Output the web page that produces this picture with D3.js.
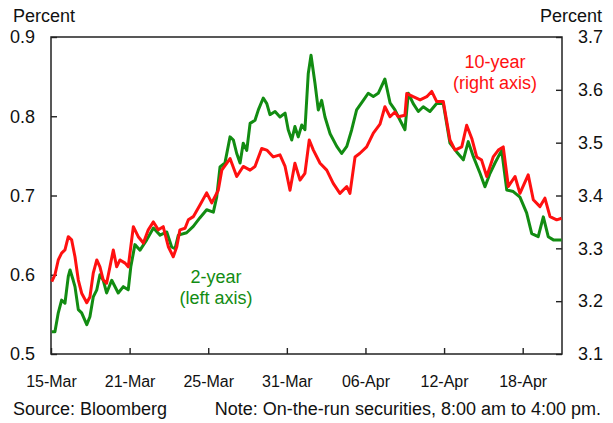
<!DOCTYPE html>
<html>
<head>
<meta charset="utf-8">
<script src="https://cdn.jsdelivr.net/npm/d3@7"></script>
<style>
  html, body { margin: 0; padding: 0; background: #ffffff; }
  svg { display: block; font-family: "Liberation Sans", Arial, sans-serif; }
</style>
</head>
<body>
<svg id="chart" width="613" height="423"></svg>
<script>
// ---- Data (trading-day index from 15-Mar, yields in percent) ----
const tickLabels = ["15-Mar", "21-Mar", "25-Mar", "31-Mar", "06-Apr", "12-Apr", "18-Apr"];
const tickDays = [0, 4, 8, 12, 16, 20, 24];
const leftTicks = [0.5, 0.6, 0.7, 0.8, 0.9];
const rightTicks = [3.1, 3.2, 3.3, 3.4, 3.5, 3.6, 3.7];

const twoYearDay = [0.04,0.20,0.37,0.54,0.71,0.88,0.97,1.13,1.22,1.39,1.56,1.82,1.98,2.15,2.33,2.49,2.66,2.83,3.09,3.42,3.68,3.93,4.06,4.27,4.53,4.87,5.21,5.55,5.89,6.14,6.31,6.48,6.90,7.24,7.58,7.92,8.26,8.43,8.60,8.85,9.11,9.28,9.45,9.62,9.78,9.96,10.13,10.38,10.55,10.80,10.98,11.14,11.40,11.65,11.91,12.07,12.25,12.41,12.58,12.76,12.92,13.09,13.23,13.43,13.60,13.77,13.94,14.20,14.54,14.79,15.05,15.30,15.55,15.89,16.14,16.40,16.65,16.99,17.25,17.50,17.76,18.01,18.18,18.43,18.69,18.94,19.28,19.62,19.96,20.30,20.64,20.98,21.23,21.49,21.83,22.08,22.34,22.59,22.93,23.19,23.52,23.86,24.20,24.46,24.79,25.05,25.30,25.56,25.98];
const twoYearVal = [0.528,0.528,0.552,0.568,0.564,0.598,0.606,0.593,0.585,0.556,0.552,0.537,0.547,0.572,0.581,0.600,0.593,0.577,0.593,0.577,0.585,0.581,0.610,0.638,0.631,0.644,0.659,0.650,0.654,0.635,0.633,0.650,0.653,0.661,0.672,0.682,0.679,0.698,0.736,0.741,0.774,0.770,0.753,0.741,0.766,0.757,0.791,0.795,0.808,0.823,0.816,0.802,0.806,0.799,0.804,0.783,0.770,0.787,0.774,0.789,0.783,0.854,0.877,0.842,0.808,0.820,0.799,0.778,0.762,0.753,0.762,0.783,0.808,0.820,0.829,0.825,0.829,0.847,0.817,0.808,0.795,0.783,0.829,0.816,0.806,0.812,0.806,0.816,0.816,0.766,0.755,0.745,0.768,0.749,0.728,0.711,0.728,0.741,0.757,0.707,0.705,0.698,0.678,0.652,0.648,0.673,0.648,0.644,0.644];

const tenYearDay = [0.04,0.20,0.37,0.54,0.71,0.88,1.05,1.22,1.39,1.56,1.82,1.98,2.15,2.33,2.49,2.66,2.83,3.00,3.17,3.34,3.51,3.77,3.93,4.19,4.44,4.70,4.95,5.21,5.46,5.71,5.97,6.22,6.40,6.56,6.82,6.99,7.24,7.58,7.92,8.18,8.51,8.69,9.11,9.45,9.78,10.13,10.38,10.72,10.98,11.31,11.65,11.91,12.16,12.41,12.67,12.92,13.14,13.35,13.69,14.03,14.36,14.70,15.05,15.21,15.47,15.72,16.06,16.40,16.74,16.99,17.25,17.50,17.67,18.01,18.10,18.43,18.78,19.12,19.37,19.62,19.96,20.30,20.56,20.90,21.15,21.41,21.66,21.91,22.17,22.50,22.76,23.01,23.27,23.61,23.86,24.28,24.54,24.88,25.13,25.39,25.73,25.98];
const tenYearVal = [3.237,3.250,3.278,3.291,3.297,3.322,3.316,3.284,3.240,3.215,3.197,3.208,3.253,3.278,3.265,3.240,3.234,3.265,3.297,3.265,3.278,3.272,3.265,3.341,3.322,3.310,3.335,3.350,3.335,3.341,3.303,3.284,3.303,3.335,3.338,3.354,3.360,3.382,3.405,3.386,3.410,3.448,3.470,3.436,3.455,3.448,3.455,3.489,3.486,3.473,3.477,3.455,3.410,3.461,3.429,3.442,3.505,3.486,3.461,3.448,3.423,3.404,3.417,3.404,3.473,3.480,3.492,3.518,3.535,3.568,3.549,3.558,3.549,3.552,3.593,3.587,3.581,3.587,3.597,3.578,3.578,3.505,3.486,3.492,3.533,3.508,3.473,3.467,3.436,3.473,3.486,3.492,3.417,3.436,3.404,3.439,3.392,3.379,3.395,3.360,3.354,3.357];

// ---- Layout ----
const svg = d3.select("#chart");
const L = 51, R = 562, T = 37, B = 354;
const GREEN = "#128c12", RED = "#ff1010";

const x = d3.scaleLinear().domain([0, 26]).range([L, R]);
const yL = d3.scaleLinear().domain([0.5, 0.9]).range([B, T]);
const yR = d3.scaleLinear().domain([3.1, 3.7]).range([B, T]);

// axes
const fmt = d3.format(".1f");
const axL = svg.append("g").attr("transform", `translate(${L},0)`)
  .call(d3.axisLeft(yL).tickValues(leftTicks).tickFormat(fmt).tickSize(-6).tickPadding(16));
const axR = svg.append("g").attr("transform", `translate(${R},0)`)
  .call(d3.axisRight(yR).tickValues(rightTicks).tickFormat(fmt).tickSize(-6).tickPadding(16));
const axB = svg.append("g").attr("transform", `translate(0,${B})`)
  .call(d3.axisBottom(x).tickValues(tickDays).tickFormat((d, i) => tickLabels[i]).tickSize(-6).tickPadding(22));

[axL, axR].forEach(g => {
  g.select(".domain").remove();
  g.selectAll("text").attr("font-size", 18).attr("fill", "#111").attr("font-family", "Liberation Sans, Arial, sans-serif");
  g.selectAll("line").attr("stroke", "#222").attr("stroke-width", 1.4);
});
axB.select(".domain").remove();
axB.selectAll("text").attr("font-size", 16).attr("fill", "#111").attr("font-family", "Liberation Sans, Arial, sans-serif");
axB.selectAll("line").attr("stroke", "#222").attr("stroke-width", 1.4);

// frame
svg.append("rect").attr("x", L).attr("y", T).attr("width", R - L).attr("height", B - T)
  .attr("fill", "none").attr("stroke", "#222").attr("stroke-width", 1.5);

// lines
const g2 = twoYearDay.map((d, i) => [d, twoYearVal[i]]);
const g10 = tenYearDay.map((d, i) => [d, tenYearVal[i]]);
svg.append("path").datum(g2)
  .attr("d", d3.line().x(d => x(d[0])).y(d => yL(d[1])))
  .attr("fill", "none").attr("stroke", GREEN).attr("stroke-width", 3).attr("stroke-linejoin", "round");
svg.append("path").datum(g10)
  .attr("d", d3.line().x(d => x(d[0])).y(d => yR(d[1])))
  .attr("fill", "none").attr("stroke", RED).attr("stroke-width", 3).attr("stroke-linejoin", "round");

// axis titles
svg.append("text").attr("x", 13).attr("y", 22).attr("font-size", 18).attr("fill", "#111").text("Percent");
svg.append("text").attr("x", 602).attr("y", 22).attr("font-size", 18).attr("fill", "#111").attr("text-anchor", "end").text("Percent");

// series labels
const lab2 = svg.append("text").attr("font-size", 18).attr("fill", GREEN).attr("text-anchor", "middle");
lab2.append("tspan").attr("x", 216).attr("y", 283).text("2-year");
lab2.append("tspan").attr("x", 216).attr("y", 304).text("(left axis)");
const lab10 = svg.append("text").attr("font-size", 18).attr("fill", RED).attr("text-anchor", "middle");
lab10.append("tspan").attr("x", 495).attr("y", 68).text("10-year");
lab10.append("tspan").attr("x", 495).attr("y", 89).text("(right axis)");

// footer
svg.append("text").attr("x", 13).attr("y", 415).attr("font-size", 18).attr("fill", "#111").text("Source: Bloomberg");
svg.append("text").attr("x", 601).attr("y", 415).attr("font-size", 18).attr("fill", "#111").attr("text-anchor", "end")
  .text("Note: On-the-run securities, 8:00 am to 4:00 pm.");
</script>
</body>
</html>
